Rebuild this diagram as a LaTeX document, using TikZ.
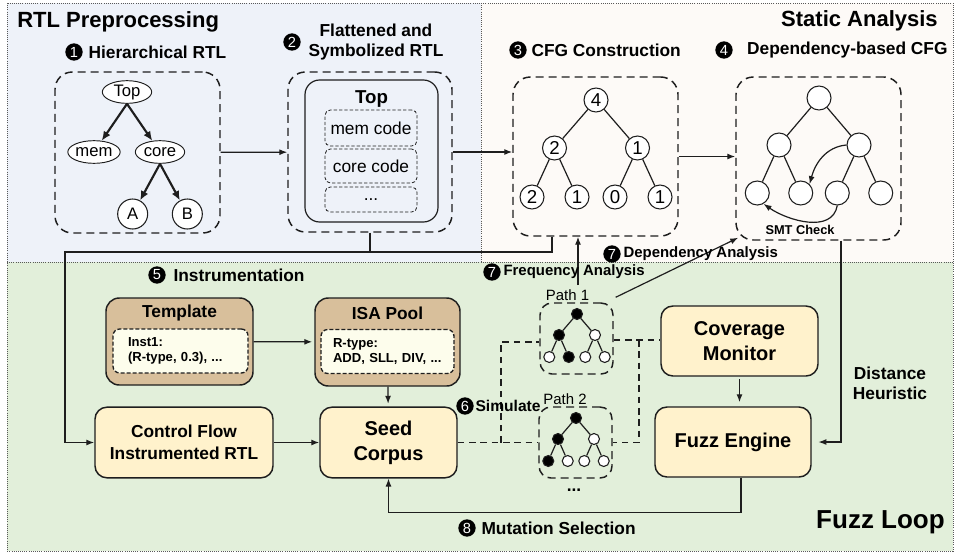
\documentclass[tikz,border=0pt]{standalone}
\usepackage{fontspec}
\setmainfont{Liberation Sans}
\usetikzlibrary{positioning,arrows.meta,shapes.geometric}
\definecolor{rtlbg}{HTML}{EEF2F9}
\definecolor{sabg}{HTML}{FDFAF7}
\definecolor{fuzzbg}{HTML}{E2EFDA}
\definecolor{cream}{HTML}{FFF2CC}
\definecolor{tan}{HTML}{D8BF9B}
\definecolor{paper}{HTML}{FDFDEC}
\definecolor{ink}{HTML}{1E1E1E}
\newcommand{\fsz}[2]{\fontsize{#1}{#2}\selectfont}
\begin{document}
\begin{tikzpicture}
[
    x=0.75pt, y=-0.75pt,
    >={Latex[length=6pt,width=4.5pt]},
    region/.style={densely dotted, line width=0.6pt, draw=black!65},
    areatitle/.style={font=\fsz{16.5}{19}\bfseries, inner sep=0pt},
    stepnum/.style={circle, fill=black, text=white, inner sep=0pt, minimum size=13pt, font=\fsz{11}{11}},
    steplbl/.style={font=\fsz{13}{15}\bfseries, inner sep=0pt, align=center},
    smalllbl/.style={font=\fsz{11.2}{13}\bfseries, inner sep=0pt},
    dashbox/.style={draw=ink, dash pattern=on 6pt off 3.75pt, line width=1.1pt, rounded corners=13pt},
    pathbox/.style={draw=ink, dash pattern=on 6pt off 3.75pt, line width=1.1pt, rounded corners=9pt, minimum width=54.75pt, minimum height=53.25pt},
    codebox/.style={draw=ink, dash pattern=on 2.5pt off 1.5pt, line width=0.6pt, rounded corners=4pt, minimum width=69pt, font=\fsz{13}{15}},
    ell/.style={draw=ink, ellipse, fill=white, inner sep=0pt, minimum width=37pt, minimum height=17pt, font=\fsz{12.5}{14}, line width=0.7pt},
    cnode/.style={draw=ink, circle, fill=white, inner sep=0pt, minimum size=18pt, font=\fsz{14}{14}, line width=0.8pt},
    pdot/.style={draw=ink, circle, fill=white, inner sep=0pt, minimum size=8.25pt, line width=0.8pt},
    phit/.style={pdot, fill=black},
    cbox/.style={draw=ink, fill=cream, rounded corners=9pt, line width=1.1pt, align=center, font=\fsz{15}{18.75}\bfseries, minimum height=53pt},
    tanbox/.style={draw=ink, fill=tan, rounded corners=10pt, line width=1.1pt},
    instbox/.style={draw=ink, fill=paper, dash pattern=on 3pt off 1.5pt, line width=1pt, rounded corners=5pt, align=left, font=\fsz{9.8}{11.25}\bfseries, minimum height=33pt},
    arr/.style={->, line width=0.9pt, draw=ink},
    dline/.style={dash pattern=on 5pt off 3.5pt, line width=1.1pt, draw=ink},
]
\useasboundingbox (0,0) rectangle (956,557);
\fill[rtlbg] (7,3) rectangle (481,262);
\fill[sabg] (481,3) rectangle (953,262);
\fill[fuzzbg] (7,262) rectangle (953,551);
\draw[region] (7,3) rectangle (953,551);
\draw[region] (7,262) -- (953,262);
\draw[region] (481,3) -- (481,262);

\node[areatitle, anchor=west] (rtlt) at (17,22) {RTL Preprocessing};
\node[areatitle, anchor=east] (sat) at (938,21) {Static Analysis};
\node[areatitle, font=\fsz{19.5}{22}\bfseries, anchor=east] (flt) at (945,522) {Fuzz Loop};

\node[dashbox, minimum width=123.75pt, minimum height=120.75pt] (box1) at (137.5,152.5) {};
\node[dashbox, minimum width=123pt, minimum height=120pt] (box2) at (370,152) {};
\node[dashbox, minimum width=123.75pt, minimum height=119.25pt] (box3) at (595.5,156.5) {};
\node[dashbox, minimum width=123.75pt, minimum height=122.25pt] (box4) at (818.5,158.5) {};

\node[stepnum] (n1) at (74,52) {1};
\node[steplbl, right=4pt of n1] (t1) {Hierarchical RTL};
\node[stepnum] (n2) at (292,42) {2};
\node[steplbl, right=5.5pt of n2] (t2) {Flattened and\\Symbolized RTL};
\node[stepnum] (n3) at (518,50) {3};
\node[steplbl, right=3.25pt of n3] (t3) {CFG Construction};
\node[stepnum] (n4) at (724,50) {4};
\node[steplbl, right=10.5pt of n4] (t4) {Dependency-based CFG};

\begin{scope}[level 1/.style={sibling distance=49.5pt, level distance=45pt},
    level 2/.style={sibling distance=41pt, level distance=46.5pt, xshift=4.5pt},
    edge from parent/.style={draw=ink, line width=1.6pt, -{Latex[length=7pt,width=6pt]}},
    parent anchor=south]
\node[ell] (top) at (127,92) {Top}
    child {node[ell] (mem) {mem}}
    child {node[ell] (core) {core}
    child {node[cnode, minimum size=22.5pt, font=\fsz{12.5}{14}] (ma) {A}}
    child {node[cnode, minimum size=22.5pt, font=\fsz{12.5}{14}] (mb) {B}}};
\end{scope}

\node[draw=ink, line width=0.9pt, rounded corners=11pt, minimum width=99.75pt, minimum height=106.5pt] (flat) at (371.5,151) {};
\node[font=\fsz{14}{16}\bfseries] (flattop) at (371.5,99) {Top};
\node[codebox, minimum height=27pt] (memc) at (371,128) {mem code};
\node[codebox, minimum height=25.5pt] (corec) at (371,166) {core code};
\node[codebox, minimum height=18.75pt] (dotc) at (371,199.5) {...};

\begin{scope}[level 1/.style={sibling distance=62.25pt, level distance=36pt},
    level 2/.style={sibling distance=33.75pt, level distance=36.75pt},
    edge from parent/.style={draw=ink, line width=0.9pt}]
\node[cnode] (c0) at (596,100) {4}
    child {node[cnode] (c1) {2}
    child {node[cnode] (c3) {2}}
    child {node[cnode] (c4) {1}}}
    child {node[cnode] (c2) {1}
    child {node[cnode] (c5) {0}}
    child {node[cnode] (c6) {1}}};
\end{scope}

\begin{scope}[level 1/.style={sibling distance=60pt, level distance=35.25pt},
    level 2/.style={sibling distance=32.6pt, level distance=36pt},
    edge from parent/.style={draw=ink, line width=0.9pt}]
\node[cnode] (d0) at (819,98) {}
    child {node[cnode] (d1) {}
    child {node[cnode] (d3) {}}
    child {node[cnode] (d4) {}}}
    child {node[cnode] (d2) {}
    child {node[cnode] (d5) {}}
    child {node[cnode] (d6) {}}};
\end{scope}
\draw[arr] (d2.west) to[out=185, in=75] (d4.north east);
\draw[arr] (d5.south) to[out=-100, in=-35] (d3.-60);
\node[font=\fsz{9.6}{11}\bfseries] (smt) at (800,230) {SMT Check};

\draw[arr] (box1) -- (box2);
\draw[arr] (box2.east) -- (box2.east -| box3.west);
\draw[arr] (box3.east) -- (box3.east -| box4.west);

\node[tanbox, minimum width=110.25pt, minimum height=65.25pt] (tmpl) at (179.5,341.5) {};
\node[font=\fsz{13}{15}\bfseries] (tmplt) at (179.5,313) {Template};
\node[instbox, text width=78.75pt, inner xsep=11.25pt] (tmpli) at (180.5,351) {Inst1:\\(R-type, 0.3), ...};
\node[tanbox, minimum width=108.75pt, minimum height=66pt] (isa) at (387.5,342) {};
\node[font=\fsz{13}{15}\bfseries] (isat) at (387.5,313) {ISA Pool};
\node[instbox, text width=81.75pt, inner xsep=9pt] (isai) at (387.5,351.5) {R-type:\\ADD, SLL, DIV, ...};

\node[cbox, minimum width=133.5pt, font=\fsz{13}{16.5}\bfseries] (cfrtl) at (184,442.5) {Control Flow\\Instrumented RTL};
\node[cbox, minimum width=102.75pt] (seed) at (388.5,442.5) {Seed\\Corpus};
\node[cbox, minimum width=117.75pt, minimum height=52.5pt] (cov) at (739.5,341) {Coverage\\Monitor};
\node[cbox, minimum width=117pt, minimum height=52.5pt] (fuzz) at (733,442) {Fuzz Engine};

\node[pathbox] (path1) at (576.5,338.5) {};
\node[pathbox] (path2) at (575.5,442.5) {};
\node[font=\fsz{11.2}{13}, inner sep=0pt] (p1l) at (567.5,295) {Path 1};
\node[font=\fsz{11.2}{13}, inner sep=0pt] (p2l) at (565,399) {Path 2};
\node[font=\fsz{13}{15}\bfseries] (pmore) at (574,490) {...};

\begin{scope}[level 1/.style={sibling distance=27pt, level distance=15.75pt},
    level 2/.style={sibling distance=14.6pt, level distance=16.5pt},
    edge from parent/.style={draw=ink, line width=0.9pt}]
\node[phit] (p1r) at (577,314) {}
    child {node[phit] (p1a) {}
    child {node[pdot] (p1c) {}}
    child {node[phit] (p1d) {}}}
    child {node[pdot] (p1b) {}
    child {node[pdot] (p1e) {}}
    child {node[pdot] (p1f) {}}};
\node[phit] (p2r) at (576,418) {}
    child {node[phit] (p2a) {}
    child {node[phit] (p2c) {}}
    child {node[pdot] (p2d) {}}}
    child {node[pdot] (p2b) {}
    child {node[pdot] (p2e) {}}
    child {node[pdot] (p2f) {}}};
\end{scope}

\coordinate (lj) at (65,252);
\coordinate (fq) at (578,285);
\coordinate (sj) at (501,442.5);
\coordinate (cj) at (639,340);
\draw[arr] ([xshift=-32.6pt]box3.south) |- (lj) |- (cfrtl.west);
\draw[line width=0.9pt, draw=ink] (box2.south) -- (box2.south |- lj);
\draw[arr] (fq) -- (fq |- box3.south);
\draw[arr] ([shift={(2,-5)}]path1.north east) -- ([shift={(3,-3)}]box4.south west);
\draw[arr, shorten >=5pt] ([xshift=16.9pt]box4.south) |- (fuzz.east);
\draw[arr, shorten >=1.5pt] (tmpl) -- (isa);
\draw[arr, shorten >=2pt] (isa) -- (seed);
\draw[arr] (cfrtl) -- (seed);
\draw[arr, shorten <=2pt, shorten >=3pt] (cov.south) -- (cov.south |- fuzz.north);
\draw[arr] ([xshift=6pt]fuzz.south) -- ++(0,35) -| (seed.south);
\draw[dline] (seed) -- (path2);
\draw[dline] (sj) |- ([yshift=-2.6pt]path1.west);
\draw[dline] ([yshift=-1pt]path1.east) -- ([yshift=-1pt]path1.east -| cov.west);
\draw[dline] (cj) |- (path2.east);

\node[stepnum] (n5) at (157,275) {5};
\node[steplbl, right=5.5pt of n5] (t5) {Instrumentation};
\node[stepnum] (n6) at (465,406) {6};
\node[smalllbl, font=\fsz{11.7}{13}\bfseries, right=1pt of n6] (t6) {Simulate};
\node[stepnum] (n7) at (492,272) {7};
\node[smalllbl, right=1.75pt of n7] (t7) {Frequency Analysis};
\node[stepnum] (n7b) at (612,254) {7};
\node[smalllbl, right=1.75pt of n7b] (t7b) {Dependency Analysis};
\node[stepnum] (n8) at (467,528) {8};
\node[steplbl, right=4pt of n8] (t8) {Mutation Selection};
\node[steplbl] (dist) at (890,383) {Distance\\Heuristic};
\end{tikzpicture}
\end{document}
